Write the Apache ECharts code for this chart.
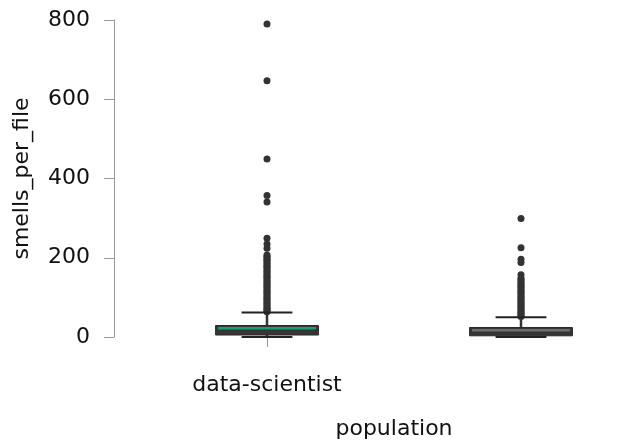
<!DOCTYPE html>
<html>
<head>
<meta charset="utf-8">
<script src="https://cdn.jsdelivr.net/npm/echarts@6/dist/echarts.min.js"></script>
<style>
html,body{margin:0;padding:0;background:#fff;overflow:hidden;width:629px;height:445px;}
#chart{width:660px;height:445px;}
</style>
</head>
<body>
<div id="chart"></div>
<script>
// ---- data ----
const categories = ['data-scientist', 'software-engineer'];
const lowerWhisker = [0, 0];
const q1 = [5, 3];
const median = [22, 17];
const q3 = [29, 24];
const upperWhisker = [62, 50];
const dsOutliers = [790, 647, 449, 357, 341, 249, 235, 224, 207, 204, 200, 196, 193, 189, 185, 181, 178, 174, 170, 166, 162, 158, 154, 151, 147, 143, 139, 135, 131, 128, 124, 120, 116, 112, 109, 105, 101, 97, 94, 90, 86, 83, 79, 76, 72, 69, 66, 64];
const seOutliers = [299, 225, 196, 188, 157, 148, 145, 141, 137, 133, 129, 126, 122, 118, 114, 111, 107, 103, 99, 96, 92, 88, 85, 81, 78, 74, 71, 67, 64, 61, 58, 55, 52];
const yTicks = { min: 0, max: 800, interval: 200 };

// ---- styles ----
const boxFill = '#353535';
const medianColors = ['#1b9e77', '#6e6e6e'];
const textFont = 'DejaVu Sans';

const boxData = categories.map((c, i) => [i, lowerWhisker[i], q1[i], median[i], q3[i], upperWhisker[i]]);
const outlierData = [];
dsOutliers.forEach(v => outlierData.push([0, v]));
seOutliers.forEach(v => outlierData.push([1, v]));

const chart = echarts.init(document.getElementById('chart'));
chart.setOption({
  animation: false,
  backgroundColor: '#fff',
  grid: { left: 140, top: 20, height: 321, width: 508, containLabel: false },
  xAxis: {
    type: 'category',
    data: categories,
    boundaryGap: true,
    offset: 17,
    axisLine: { show: false },
    axisTick: { show: true, alignWithLabel: true, length: 10, lineStyle: { color: '#999', width: 1 } },
    axisLabel: { fontSize: 22, fontFamily: textFont, color: '#111', margin: 20 },
    splitLine: { show: false },
    name: 'population',
    nameLocation: 'middle',
    nameGap: 64,
    nameTextStyle: { fontSize: 22, fontFamily: textFont, color: '#111' }
  },
  yAxis: {
    type: 'value',
    min: yTicks.min, max: yTicks.max, interval: yTicks.interval,
    offset: 26,
    axisLine: { show: true, lineStyle: { color: '#999', width: 1 } },
    axisTick: { show: true, length: 10, lineStyle: { color: '#999', width: 1 } },
    axisLabel: { fontSize: 22, fontFamily: textFont, color: '#111', margin: 24 },
    splitLine: { show: false },
    name: 'smells_per_file',
    nameLocation: 'middle',
    nameGap: 81,
    nameTextStyle: { fontSize: 22, fontFamily: textFont, color: '#111' }
  },
  series: [
    {
      type: 'scatter',
      data: outlierData,
      symbol: 'circle',
      symbolSize: 7,
      itemStyle: { color: '#333', opacity: 1 },
      z: 2
    },
    {
      type: 'custom',
      z: 3,
      data: boxData,
      encode: { x: 0, y: [1, 2, 3, 4, 5] },
      renderItem: function (params, api) {
        const i = api.value(0);
        const band = api.size([1, 0])[0];
        const boxW = band * 0.405;
        const capW = band * 0.2;
        const pLow = api.coord([i, api.value(1)]);
        const pQ1 = api.coord([i, api.value(2)]);
        const pMed = api.coord([i, api.value(3)]);
        const pQ3 = api.coord([i, api.value(4)]);
        const pHigh = api.coord([i, api.value(5)]);
        const cx = pQ1[0];
        return {
          type: 'group',
          children: [
            { type: 'line', shape: { x1: cx, y1: pQ3[1], x2: cx, y2: pHigh[1] }, style: { stroke: '#333', lineWidth: 2.5 } },
            { type: 'line', shape: { x1: cx, y1: pQ1[1], x2: cx, y2: pLow[1] }, style: { stroke: '#333', lineWidth: 2.5 } },
            { type: 'line', shape: { x1: cx - capW / 2, y1: pHigh[1], x2: cx + capW / 2, y2: pHigh[1] }, style: { stroke: '#222', lineWidth: 2 } },
            { type: 'line', shape: { x1: cx - capW / 2, y1: pLow[1], x2: cx + capW / 2, y2: pLow[1] }, style: { stroke: '#222', lineWidth: 2 } },
            { type: 'rect', shape: { x: cx - boxW / 2, y: pQ3[1], width: boxW, height: pQ1[1] - pQ3[1] }, style: { fill: boxFill, stroke: '#2a2a2a', lineWidth: 1 } },
            { type: 'line', shape: { x1: cx - boxW / 2 + 2.5, y1: pMed[1], x2: cx + boxW / 2 - 2.5, y2: pMed[1] }, style: { stroke: medianColors[i], lineWidth: 2.5 } }
          ]
        };
      }
    }
  ]
});
</script>
</body>
</html>
